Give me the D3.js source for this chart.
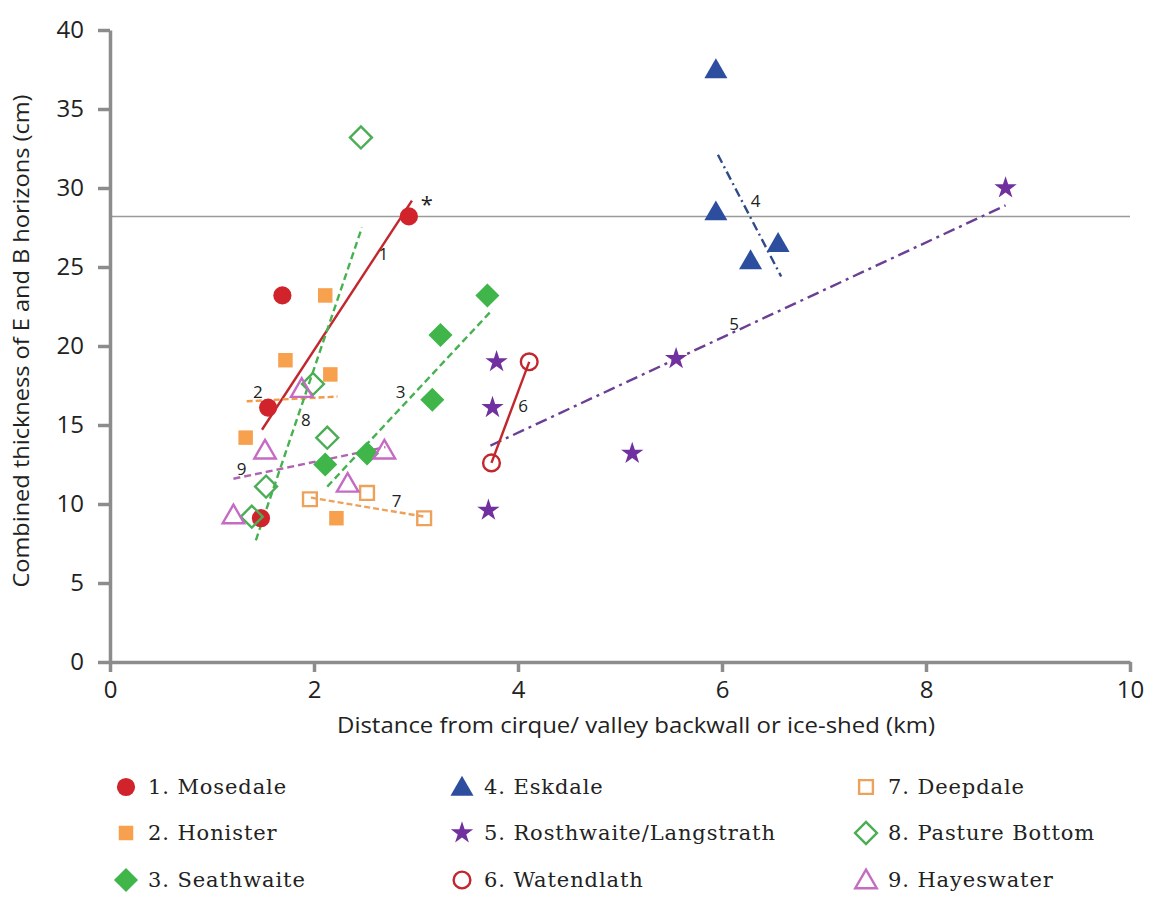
<!DOCTYPE html>
<html>
<head>
<meta charset="utf-8">
<script src="https://cdn.jsdelivr.net/npm/d3@7/dist/d3.min.js"></script>
<style>
  body { margin: 0; background: #fff; }
  svg { display: block; }
</style>
</head>
<body>
<svg id="chart" width="1160" height="900"></svg>
<script>
// site names and point values (km, cm)
const siteNames = ['1. Mosedale', '2. Honister', '3. Seathwaite', '4. Eskdale',
    '5. Rosthwaite/Langstrath', '6. Watendlath', '7. Deepdale', '8. Pasture Bottom', '9. Hayeswater'];

const mosedaleX = [2.93, 1.69, 1.55, 1.48];
const mosedaleY = [28.2, 23.2, 16.1, 9.1];
const honisterX = [2.11, 1.72, 2.16, 1.33, 2.22];
const honisterY = [23.2, 19.1, 18.2, 14.2, 9.1];
const seathwaiteX = [3.70, 3.24, 3.16, 2.52, 2.11];
const seathwaiteY = [23.2, 20.7, 16.6, 13.2, 12.5];
const eskdaleX = [5.94, 5.94, 6.28, 6.55];
const eskdaleY = [37.5, 28.5, 25.4, 26.5];
const rosthwaiteX = [8.78, 5.55, 5.12, 3.79, 3.75, 3.71];
const rosthwaiteY = [30.0, 19.2, 13.2, 19.0, 16.1, 9.6];
const watendlathX = [4.11, 3.74];
const watendlathY = [19.0, 12.6];
const deepdaleX = [1.96, 2.52, 3.08];
const deepdaleY = [10.3, 10.7, 9.1];
const pastureX = [2.46, 1.99, 2.13, 1.53, 1.39];
const pastureY = [33.2, 17.6, 14.2, 11.1, 9.2];
const hayeswaterX = [1.88, 1.52, 2.69, 2.33, 1.21];
const hayeswaterY = [17.3, 13.4, 13.4, 11.3, 9.3];

// trend line ends [x1, y1, x2, y2] per site
const trendEnds = [
    [1.49, 14.7, 2.96, 29.2],
    [1.34, 16.5, 2.23, 16.8],
    [2.13, 11.1, 3.75, 22.3],
    [5.96, 32.1, 6.58, 24.4],
    [3.73, 13.7, 8.78, 28.9],
    [3.74, 12.6, 4.11, 19.0],
    [1.97, 10.4, 3.08, 9.2],
    [1.43, 7.7, 2.47, 27.5],
    [1.21, 11.6, 2.70, 13.6]
];
// where the little number labels of the trend lines sit
const trendLabelX = [2.68, 1.45, 2.85, 6.33, 6.12, 4.05, 2.81, 1.92, 1.29];
const trendLabelY = [25.8, 17.1, 17.1, 29.2, 21.4, 16.2, 10.2, 15.3, 12.2];

const thresholdY = 28.2;
const xTicks = [0, 2, 4, 6, 8, 10];
const yTicks = [0, 5, 10, 15, 20, 25, 30, 35, 40];

const sites = [
    {x: mosedaleX, y: mosedaleY, shape: 'circle', color: '#d0232b', fill: true, line: '#c1272d', dash: null},
    {x: honisterX, y: honisterY, shape: 'square', color: '#f7a04e', fill: true, line: '#f29a45', dash: '6,3'},
    {x: seathwaiteX, y: seathwaiteY, shape: 'diamond', color: '#3fb54a', fill: true, line: '#45b24f', dash: '7,4'},
    {x: eskdaleX, y: eskdaleY, shape: 'triangle', color: '#2d4d9f', fill: true, line: '#2f4b88', dash: '9,4,2,4'},
    {x: rosthwaiteX, y: rosthwaiteY, shape: 'star', color: '#7030a0', fill: true, line: '#6b3f96', dash: '12,5,3,5'},
    {x: watendlathX, y: watendlathY, shape: 'circle', color: '#c1272d', fill: false, line: '#c1272d', dash: null},
    {x: deepdaleX, y: deepdaleY, shape: 'square', color: '#eda25c', fill: false, line: '#eda25c', dash: '6,3'},
    {x: pastureX, y: pastureY, shape: 'diamond', color: '#4aae55', fill: false, line: '#45b24f', dash: '7,4'},
    {x: hayeswaterX, y: hayeswaterY, shape: 'triangle', color: '#c56bc4', fill: false, line: '#b064b0', dash: '7,4'}
];

const svg = d3.select('#chart');
const margin = {left: 110, right: 30, top: 30, bottom: 238};
const width = 1160, height = 900;

const xScale = d3.scaleLinear().domain([0, 10]).range([margin.left, width - margin.right]);
const yScale = d3.scaleLinear().domain([0, 40]).range([height - margin.bottom, margin.top]);

const axisColor = '#8c8c8c';

// threshold line
svg.append('line')
    .attr('x1', xScale(0)).attr('x2', xScale(10))
    .attr('y1', yScale(thresholdY)).attr('y2', yScale(thresholdY))
    .attr('stroke', '#9a9a9a').attr('stroke-width', 1.6);

// axes
let yAxis = d3.axisLeft(yScale).tickValues(yTicks).tickSize(12).tickSizeOuter(0).tickPadding(14);
let xAxis = d3.axisBottom(xScale).tickValues(xTicks).tickSize(10).tickSizeOuter(0).tickPadding(6);

let gy = svg.append('g').attr('transform', `translate(${xScale(0)},0)`).call(yAxis);
let gx = svg.append('g').attr('transform', `translate(0,${yScale(0)})`).call(xAxis);

[gx, gy].forEach(function(g) {
    g.select('.domain').attr('stroke', axisColor).attr('stroke-width', 3.5);
    g.selectAll('.tick line').attr('stroke', axisColor).attr('stroke-width', 3.5);
    g.selectAll('.tick text')
        .attr('fill', '#222')
        .style('font-family', '"Open Sans", sans-serif')
        .style('font-size', '24px');
});
gx.selectAll('.tick text').attr('dy', '0.85em');

svg.append('text')
    .attr('x', 636).attr('y', 733)
    .attr('text-anchor', 'middle')
    .attr('textLength', 598).attr('lengthAdjust', 'spacingAndGlyphs')
    .style('font-family', '"Open Sans", sans-serif')
    .style('font-size', '21px')
    .attr('fill', '#222')
    .text('Distance from cirque/ valley backwall or ice-shed (km)');

svg.append('text')
    .attr('transform', 'translate(29,341) rotate(-90)')
    .attr('text-anchor', 'middle')
    .attr('textLength', 493).attr('lengthAdjust', 'spacingAndGlyphs')
    .style('font-family', '"Open Sans", sans-serif')
    .style('font-size', '21px')
    .attr('fill', '#222')
    .text('Combined thickness of E and B horizons (cm)');

// trend lines
let trendG = svg.append('g');
trendEnds.forEach(function(t, i) {
    trendG.append('line')
        .attr('x1', xScale(t[0])).attr('y1', yScale(t[1]))
        .attr('x2', xScale(t[2])).attr('y2', yScale(t[3]))
        .attr('stroke', sites[i].line)
        .attr('stroke-width', 2.4)
        .attr('stroke-dasharray', sites[i].dash);
});

function symbolPath(shape, size) {
    switch (shape) {
        case 'circle': return d3.symbol(d3.symbolCircle, size)();
        case 'square': return d3.symbol(d3.symbolSquare, size)();
        case 'diamond': return d3.symbol(d3.symbolSquare, size)();
        case 'triangle': return d3.symbol(d3.symbolTriangle, size)();
        case 'star': return d3.symbol(d3.symbolStar, size)();
    }
}

function symbolSize(site) {
    switch (site.shape) {
        case 'circle': return site.fill ? 260 : 220;
        case 'square': return site.fill ? 210 : 190;
        case 'diamond': return site.fill ? 290 : 240;
        case 'triangle': return site.fill ? 230 : 200;
        case 'star': return 155;
    }
}

function drawMarker(g, site, cx, cy) {
    let rot = site.shape === 'diamond' ? ' rotate(45)' : '';
    let dy = site.shape === 'triangle' ? 2 : 0;
    g.append('path')
        .attr('d', symbolPath(site.shape, symbolSize(site)))
        .attr('transform', `translate(${cx},${cy + dy})${rot}`)
        .attr('fill', site.fill ? site.color : 'none')
        .attr('stroke', site.fill ? 'none' : site.color)
        .attr('stroke-width', 2.4);
}

// markers
let markG = svg.append('g');
sites.forEach(function(site) {
    site.x.forEach(function(xv, j) {
        drawMarker(markG, site, xScale(xv), yScale(site.y[j]));
    });
});

// number labels on trend lines
let lblG = svg.append('g')
    .style('font-family', '"Open Sans", sans-serif')
    .style('font-size', '17px')
    .attr('fill', '#222');
trendLabelX.forEach(function(xv, i) {
    lblG.append('text')
        .attr('x', xScale(xv)).attr('y', yScale(trendLabelY[i]))
        .attr('text-anchor', 'middle')
        .attr('dy', '0.35em')
        .text(i + 1);
});
lblG.append('text')
    .attr('x', xScale(mosedaleX[0]) + 18).attr('y', yScale(mosedaleY[0]) - 4)
    .attr('text-anchor', 'middle')
    .style('font-size', '22px')
    .text('*');

// legend, three columns
const legendColX = [126, 462, 866];
const legendRowY = [787, 833, 880];
let legG = svg.append('g');
sites.forEach(function(site, i) {
    let cx = legendColX[Math.floor(i / 3)];
    let cy = legendRowY[i % 3];
    drawMarker(legG, site, cx, cy);
    legG.append('text')
        .attr('x', cx + 22).attr('y', cy)
        .attr('dy', '0.35em')
        .style('font-family', '"DejaVu Serif", serif')
        .style('font-size', '21px')
        .style('letter-spacing', '0.9px')
        .attr('fill', '#222')
        .text(siteNames[i]);
});
</script>
</body>
</html>
